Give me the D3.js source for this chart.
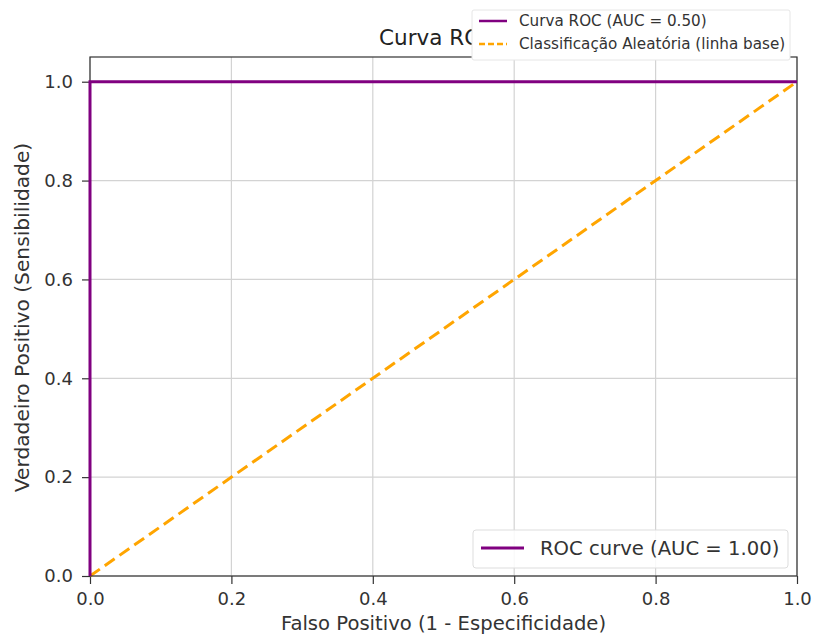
<!DOCTYPE html>
<html>
<head>
<meta charset="utf-8">
<script src="https://cdn.jsdelivr.net/npm/d3@7"></script>
<style>
  html, body { margin: 0; padding: 0; background: #fff; }
  svg { display: block; font-family: "DejaVu Sans", sans-serif; }
</style>
</head>
<body>
<svg id="chart" width="814" height="636"></svg>
<script>
// ROC curve of the classifier (false positive rate, true positive rate)
const rocFpr = [0, 0, 1];
const rocTpr = [0, 1, 1];
// Random-guess baseline
const baseFpr = [0, 1];
const baseTpr = [0, 1];

const xTicks = [0, 0.2, 0.4, 0.6, 0.8, 1.0];
const yTicks = [0, 0.2, 0.4, 0.6, 0.8, 1.0];

const titleText = "Curva ROC";
const xLabel = "Falso Positivo (1 - Especificidade)";
const yLabel = "Verdadeiro Positivo (Sensibilidade)";
const rocLabel = "ROC curve (AUC = 1.00)";
const topLegendLabels = ["Curva ROC (AUC = 0.50)", "Classificação Aleatória (linha base)"];

const purple = "#800080";
const orange = "#ffa500";

const svg = d3.select("#chart");
const mLeft = 90, mRight = 797, mTop = 57, mBottom = 576;

const x = d3.scaleLinear().domain([0, 1]).range([mLeft, mRight]);
const y = d3.scaleLinear().domain([0, 1.05]).range([mBottom, mTop]);

// grid
const grid = svg.append("g");
grid.selectAll("line.gx").data(xTicks).join("line")
  .attr("x1", d => x(d)).attr("x2", d => x(d))
  .attr("y1", mTop).attr("y2", mBottom)
  .attr("stroke", "#d3d3d3").attr("stroke-width", 1.2);
grid.selectAll("line.gy").data(yTicks).join("line")
  .attr("x1", mLeft).attr("x2", mRight)
  .attr("y1", d => y(d)).attr("y2", d => y(d))
  .attr("stroke", "#d3d3d3").attr("stroke-width", 1.2);

// axes
const xAxis = d3.axisBottom(x).tickValues(xTicks).tickFormat(d3.format(".1f")).tickSize(8).tickPadding(5);
const yAxis = d3.axisLeft(y).tickValues(yTicks).tickFormat(d3.format(".1f")).tickSize(8).tickPadding(9);

const gx = svg.append("g").attr("transform", `translate(0,${mBottom})`).call(xAxis);
const gy = svg.append("g").attr("transform", `translate(${mLeft},0)`).call(yAxis);
[gx, gy].forEach(g => {
  g.select(".domain").remove();
  g.selectAll(".tick line").attr("stroke", "#333").attr("stroke-width", 1.2);
  g.selectAll(".tick text").attr("fill", "#333").style("font-size", "18px")
    .style("font-family", "'DejaVu Sans', sans-serif");
});
gx.selectAll(".tick text").attr("dy", "0.9em");

// lines
const line = d3.line().x(d => x(d[0])).y(d => y(d[1]));
svg.append("path")
  .datum(baseFpr.map((v, i) => [v, baseTpr[i]]))
  .attr("d", line).attr("fill", "none")
  .attr("stroke", orange).attr("stroke-width", 3).attr("stroke-dasharray", "12,6");

// frame
svg.append("rect").attr("x", mLeft).attr("y", mTop)
  .attr("width", mRight - mLeft).attr("height", mBottom - mTop)
  .attr("fill", "none").attr("stroke", "#333").attr("stroke-width", 1.2);

svg.append("path")
  .datum(rocFpr.map((v, i) => [v, rocTpr[i]]))
  .attr("d", line).attr("fill", "none")
  .attr("stroke", purple).attr("stroke-width", 3);

// axis labels
svg.append("text").attr("x", (mLeft + mRight) / 2).attr("y", 630)
  .attr("text-anchor", "middle").attr("fill", "#333").style("font-size", "19.6px").text(xLabel);
svg.append("text").attr("transform", `translate(29,${(mTop + mBottom) / 2 + 1}) rotate(-90)`)
  .attr("text-anchor", "middle").attr("fill", "#333").style("font-size", "20.2px").text(yLabel);

// title
svg.append("text").attr("x", 379).attr("y", 45)
  .attr("fill", "#222").style("font-size", "21.5px").text(titleText);

// legend, lower right
const lg = svg.append("g");
lg.append("rect").attr("x", 473).attr("y", 530).attr("width", 315).attr("height", 38).attr("rx", 3)
  .attr("fill", "#fff").attr("fill-opacity", 0.85).attr("stroke", "#ddd");
lg.append("line").attr("x1", 481).attr("x2", 524).attr("y1", 548).attr("y2", 548)
  .attr("stroke", purple).attr("stroke-width", 3);
lg.append("text").attr("x", 540).attr("y", 555).attr("fill", "#333")
  .style("font-size", "19.6px").text(rocLabel);

// legend, upper
const tl = svg.append("g");
tl.append("rect").attr("x", 472).attr("y", 10).attr("width", 318).attr("height", 50).attr("rx", 2)
  .attr("fill", "#fff").attr("stroke", "#e6e6e6");
tl.append("line").attr("x1", 479).attr("x2", 507).attr("y1", 21).attr("y2", 21)
  .attr("stroke", purple).attr("stroke-width", 2.5);
tl.append("line").attr("x1", 479).attr("x2", 507).attr("y1", 44).attr("y2", 44)
  .attr("stroke", orange).attr("stroke-width", 2.5).attr("stroke-dasharray", "6,3");
tl.selectAll("text.t").data(topLegendLabels).join("text")
  .attr("x", 519).attr("y", (d, i) => 26 + i * 23)
  .attr("fill", "#333").style("font-size", "15.2px").text(d => d);
</script>
</body>
</html>
